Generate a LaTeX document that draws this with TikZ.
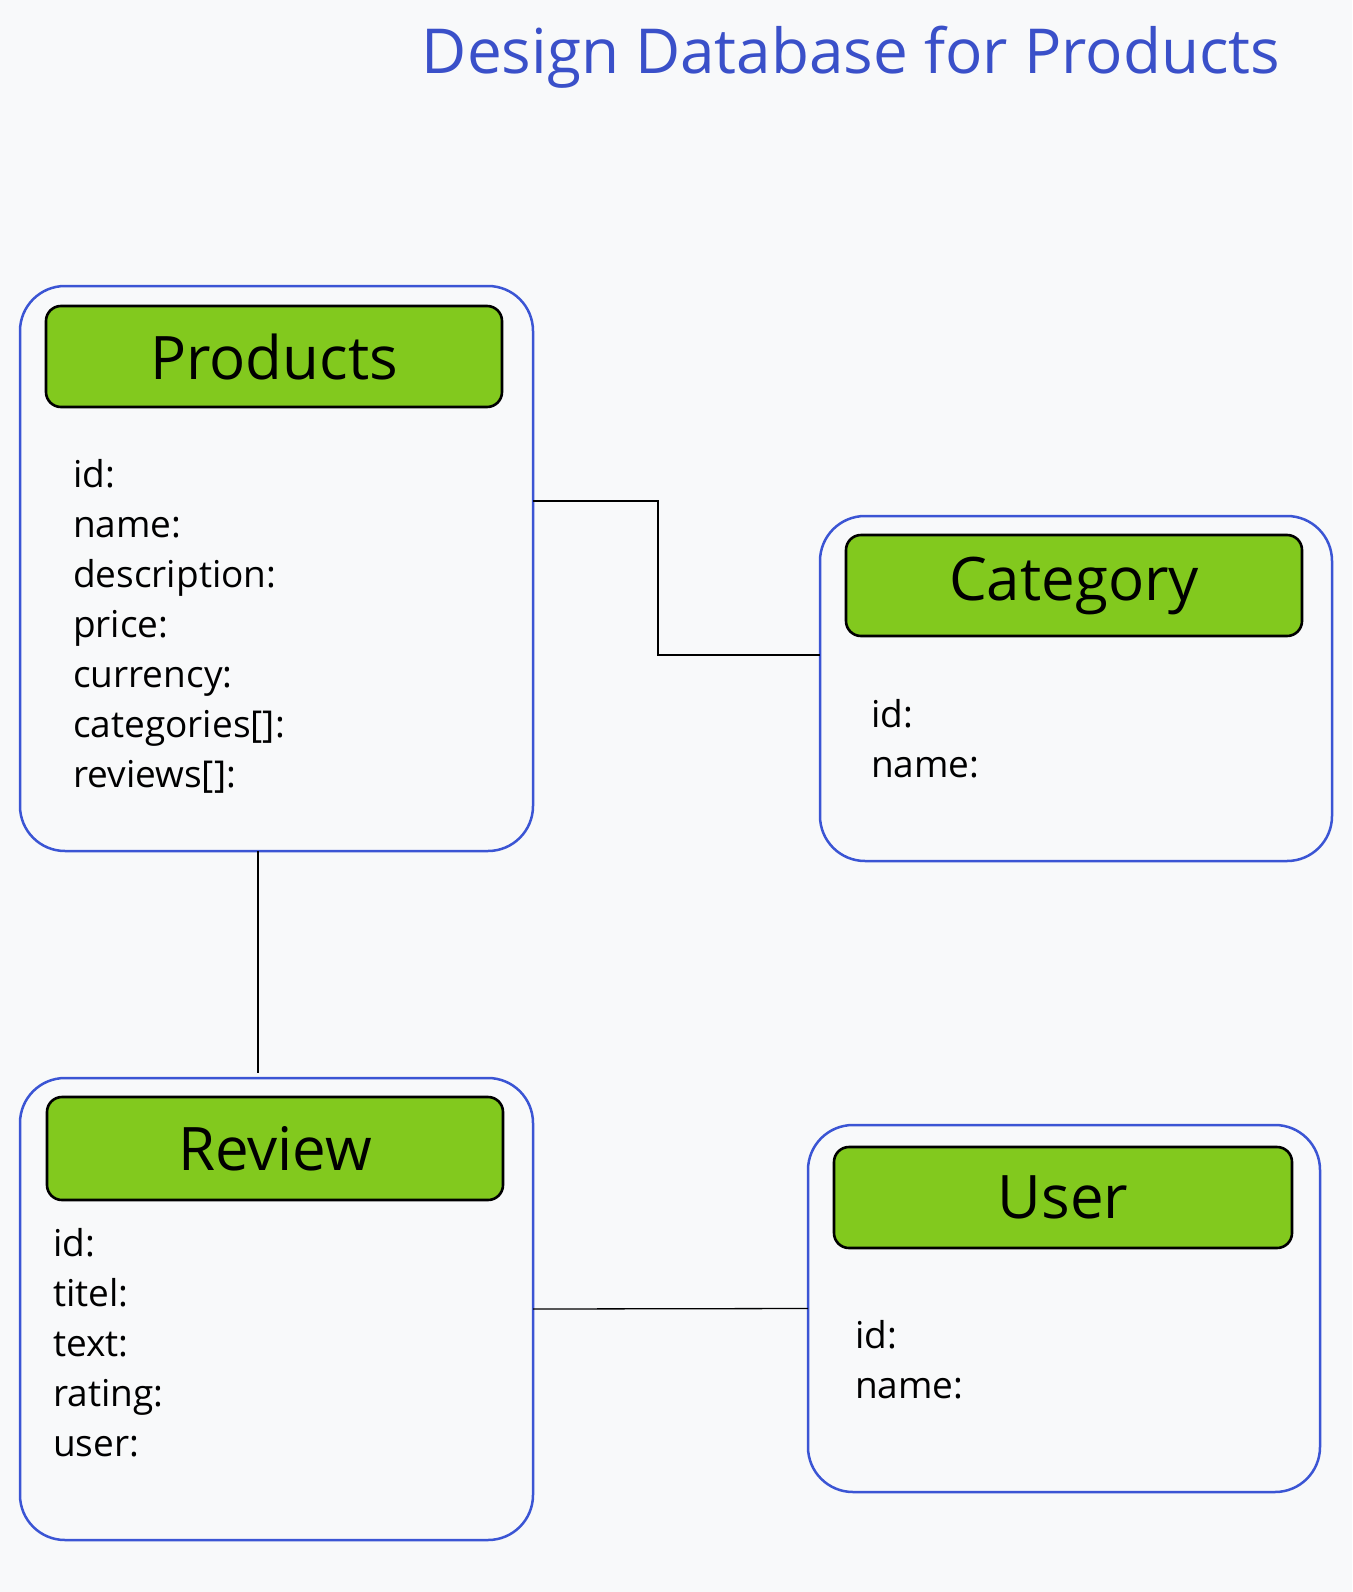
\documentclass[tikz,border=0pt]{standalone}
\usepackage{fontspec}
\setmainfont{Open Sans}
\definecolor{bgc}{HTML}{F8F9FA}
\definecolor{titleblue}{HTML}{3A50C9}
\definecolor{boxblue}{HTML}{3B55D4}
\definecolor{hgreen}{HTML}{82C91E}
\begin{document}
\begin{tikzpicture}[x=1pt,y=-1pt,
  outerbox/.style={draw=boxblue,line width=2.5pt,rounded corners=45pt,fill=bgc,inner sep=0pt,outer sep=0pt},
  headbox/.style={draw=black,line width=2.6pt,rounded corners=15pt,fill=hgreen,inner sep=0pt,outer sep=0pt,font=\fontsize{60}{64}\selectfont},
  fields/.style={anchor=north west,align=left,inner sep=0pt,font=\fontsize{37}{50}\selectfont},
  link/.style={draw=black,line width=1.3pt}]
\useasboundingbox (0,0) rectangle (1352,1592);
\fill[bgc] (0,0) rectangle (1352,1592);

\node[text=titleblue,font=\fontsize{62}{66}\selectfont] (title) at (851,57) {Design Database for Products};

% Products
\node[outerbox,minimum width=513pt,minimum height=565pt] (prod) at (276.5,568.5) {};
\node[headbox,minimum width=456pt,minimum height=101pt] (prodh) at (274,356.5) {Products};
\node[fields] (prodf) at (73,459) {id:\\name:\\description:\\price:\\currency:\\categories[]:\\reviews[]:};

% Category
\node[outerbox,minimum width=512pt,minimum height=345pt] (cat) at (1076,688.5) {};
\node[headbox,minimum width=456pt,minimum height=101pt] (cath) at (1074,585.5) {Category};
\node[fields] (catf) at (871,699) {id:\\name:};

% Review
\node[outerbox,minimum width=513pt,minimum height=462pt] (rev) at (276.5,1309) {};
\node[headbox,minimum width=456pt,minimum height=103pt] (revh) at (275,1148.5) {Review};
\node[fields] (revf) at (53,1228) {id:\\titel:\\text:\\rating:\\user:};

% User
\node[outerbox,minimum width=512pt,minimum height=367pt] (user) at (1064,1308.5) {};
\node[headbox,minimum width=458pt,minimum height=101pt] (userh) at (1063,1197.5) {User};
\node[fields] (userf) at (855,1320) {id:\\name:};

% connectors
\draw[link] ([yshift=67.5pt]prod.east) -- ++(125,0) |- ([yshift=33.5pt]cat.west);
\draw[link] ([xshift=-18.5pt]prod.south) -- ([xshift=-18.5pt,yshift=5pt]rev.north);
\draw[link] (rev.east) -- (user.west);
\end{tikzpicture}
\end{document}
